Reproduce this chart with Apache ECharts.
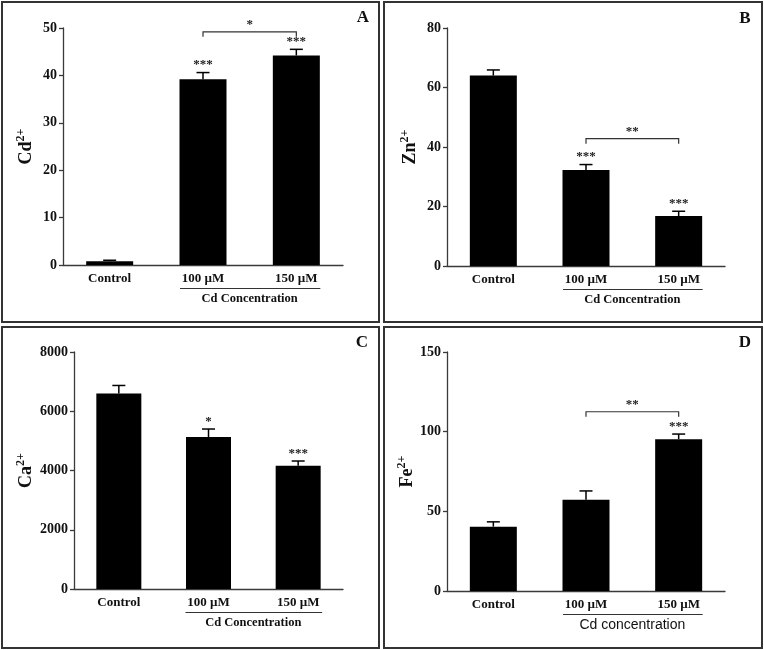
<!DOCTYPE html>
<html><head><meta charset="utf-8">
<script src="https://cdn.jsdelivr.net/npm/echarts@6/dist/echarts.min.js"></script>
<style>html,body{margin:0;padding:0;background:#fff}#c{width:764px;height:650px}</style>
</head><body><div id="c"></div>
<script>
const categories = ['Control', '100 µM', '150 µM'];
// Panel A: Cd2+
const cdMean = [0.8, 39.2, 44.2];
const cdErr = [0.2, 1.4, 1.3];
const cdSig = ['', '***', '***'];
// Panel B: Zn2+
const znMean = [64.0, 32.3, 16.8];
const znErr = [1.9, 1.8, 1.6];
const znSig = ['', '***', '***'];
// Panel C: Ca2+
const caMean = [6600, 5130, 4160];
const caErr = [270, 270, 160];
const caSig = ['', '*', '***'];
// Panel D: Fe2+
const feMean = [40.4, 57.2, 95.3];
const feErr = [3.0, 5.6, 3.2];
const feSig = ['', '', '***'];
// Between-group brackets (100 µM vs 150 µM)
const bracketLevel = [49.2, 42.8, null, 112.5];
const bracketLabel = ['*', '**', null, '**'];
// Axis ranges
const yMax = [50, 80, 8000, 150];
const yStep = [10, 20, 2000, 50];
const yNames = [['Cd', '2+'], ['Zn', '2+'], ['Ca', '2+'], ['Fe', '2+']];
const groupLabels = ['Cd Concentration', 'Cd Concentration', 'Cd Concentration', 'Cd concentration'];
const panelLetters = ['A', 'B', 'C', 'D'];

const means = [cdMean, znMean, caMean, feMean];
const errs = [cdErr, znErr, caErr, feErr];
const sigs = [cdSig, znSig, caSig, feSig];

const SERIF = '"Liberation Serif","Times New Roman",serif';
const SANS = '"Liberation Sans",Arial,sans-serif';
const AX = '#3a3a3a';

const grids = [
  {left: 63, top: 28, width: 280, height: 237},
  {left: 447, top: 28, width: 278, height: 238},
  {left: 74, top: 352, width: 269, height: 237},
  {left: 447, top: 352, width: 278, height: 239}
];
const nameGaps = [26, 26, 37, 26];
const barWidths = [47, 47, 45, 47];

const xAxis = [], yAxis = [], series = [];
for (let i = 0; i < 4; i++) {
  xAxis.push({
    type: 'category', gridIndex: i, data: categories,
    axisLine: {lineStyle: {color: AX, width: 1.3}},
    axisTick: {alignWithLabel: true, length: 5, lineStyle: {color: AX, width: 1.3}},
    axisLabel: {margin: 7, color: '#111', fontFamily: SERIF, fontWeight: 'bold', fontSize: 13}
  });
  yAxis.push({
    type: 'value', gridIndex: i, min: 0, max: yMax[i], interval: yStep[i],
    splitLine: {show: false},
    axisLine: {show: true, lineStyle: {color: AX, width: 1.3}},
    axisTick: {show: true, length: 4, lineStyle: {color: AX, width: 1.3}},
    axisLabel: {margin: 6, color: '#111', fontFamily: SERIF, fontWeight: 'bold', fontSize: 14,
      formatter: v => String(v)},
    name: '{a|' + yNames[i][0] + '}{s|' + yNames[i][1] + '}',
    nameLocation: 'middle', nameRotate: 90, nameGap: nameGaps[i],
    nameTextStyle: {rich: {
      a: {fontFamily: SERIF, fontWeight: 'bold', fontSize: 18, color: '#111', lineHeight: 22},
      s: {fontFamily: SERIF, fontWeight: 'bold', fontSize: 12, color: '#111', verticalAlign: 'top', lineHeight: 22}
    }}
  });
  series.push({
    type: 'bar', xAxisIndex: i, yAxisIndex: i, data: means[i],
    barWidth: barWidths[i], itemStyle: {color: '#000'}, silent: true
  });
  // error bars + significance stars
  const ebData = means[i].map((m, k) => [k, m, errs[i][k], sigs[i][k]]);
  series.push({
    type: 'custom', xAxisIndex: i, yAxisIndex: i, data: ebData, silent: true, z: 5,
    renderItem: (function (sig) {
      return function (params, api) {
        const k = api.value(0), m = api.value(1), e = api.value(2);
        const p0 = api.coord([k, m]);
        const p1 = api.coord([k, m + e]);
        const children = [
          {type: 'line', shape: {x1: p0[0], y1: p0[1], x2: p1[0], y2: p1[1]}, style: {stroke: '#000', lineWidth: 1.5}},
          {type: 'line', shape: {x1: p1[0] - 6.5, y1: p1[1], x2: p1[0] + 6.5, y2: p1[1]}, style: {stroke: '#000', lineWidth: 1.5}}
        ];
        const s = sig[params.dataIndex];
        if (s) children.push({type: 'text', style: {text: s, x: p1[0], y: p1[1] - 1, align: 'center', verticalAlign: 'bottom',
          fontFamily: SERIF, fontWeight: 'bold', fontSize: 13, fill: '#222'}});
        return {type: 'group', children: children};
      };
    })(sigs[i])
  });
  // group underline + group label, and bracket
  series.push({
    type: 'custom', xAxisIndex: i, yAxisIndex: i, data: [[1, 2, bracketLevel[i] == null ? 0 : bracketLevel[i]]],
    silent: true, clip: false, z: 5,
    renderItem: (function (idx) {
      return function (params, api) {
        const a = api.coord([1, 0]), b = api.coord([2, 0]);
        const children = [
          {type: 'line', shape: {x1: a[0] - 23, y1: a[1] + 23.5, x2: b[0] + 24, y2: a[1] + 23.5}, style: {stroke: '#333', lineWidth: 1}},
          {type: 'text', style: {text: groupLabels[idx], x: (a[0] + b[0]) / 2, y: a[1] + 34, align: 'center', verticalAlign: 'middle',
            fontFamily: idx === 3 ? SANS : SERIF, fontWeight: idx === 3 ? 'normal' : 'bold', fontSize: idx === 3 ? 14 : 12.5, fill: '#111'}}
        ];
        if (bracketLevel[idx] != null) {
          const c1 = api.coord([1, bracketLevel[idx]]), c2 = api.coord([2, bracketLevel[idx]]);
          children.push({type: 'polyline', shape: {points: [[c1[0], c1[1] + 5], [c1[0], c1[1]], [c2[0], c2[1]], [c2[0], c2[1] + 5]]},
            style: {stroke: '#333', lineWidth: 1.2, fill: null}});
          children.push({type: 'text', style: {text: bracketLabel[idx], x: (c1[0] + c2[0]) / 2, y: c1[1] - 1, align: 'center', verticalAlign: 'bottom',
            fontFamily: SERIF, fontWeight: 'bold', fontSize: 13, fill: '#222'}});
        }
        return {type: 'group', children: children};
      };
    })(i)
  });
}

const boxes = [[2, 2, 377, 320], [384, 2, 378, 320], [2, 327, 377, 321], [384, 327, 378, 321]];
const letterPos = [[363, 18], [745, 19], [362, 343], [745, 343]];
const graphic = [];
boxes.forEach(b => graphic.push({type: 'rect', shape: {x: b[0], y: b[1], width: b[2], height: b[3]},
  style: {fill: null, stroke: '#333', lineWidth: 2}, silent: true}));
letterPos.forEach((p, i) => graphic.push({type: 'text', x: p[0], y: p[1],
  style: {text: panelLetters[i], align: 'center', verticalAlign: 'middle', fontFamily: SERIF, fontWeight: 'bold', fontSize: 17, fill: '#111'}}));

const chart = echarts.init(document.getElementById('c'), null, {renderer: 'canvas'});
chart.setOption({
  animation: false,
  backgroundColor: '#fff',
  grid: grids,
  xAxis: xAxis,
  yAxis: yAxis,
  series: series,
  graphic: graphic
});
</script></body></html>
